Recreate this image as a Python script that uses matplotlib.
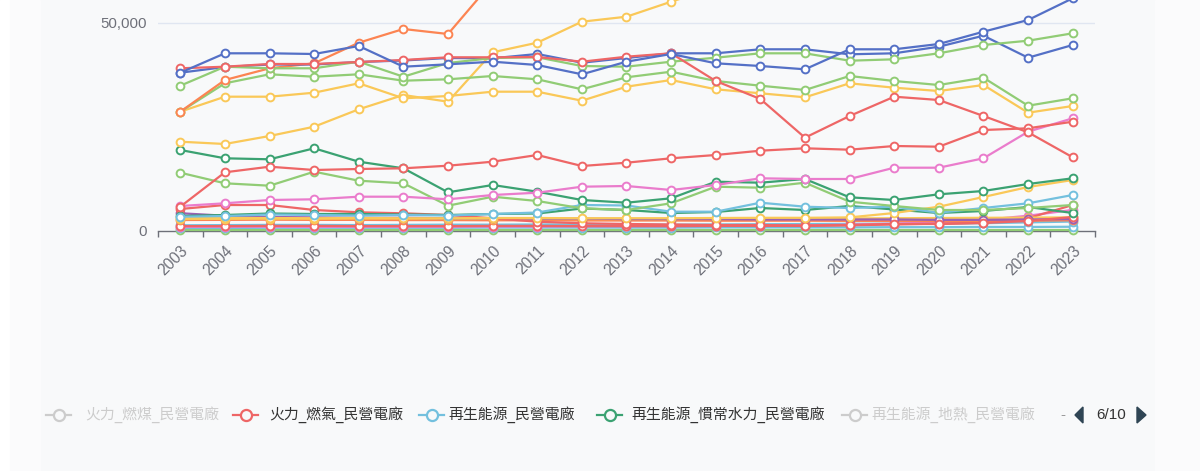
import matplotlib
matplotlib.use("Agg")
import matplotlib.pyplot as plt
from matplotlib.lines import Line2D
from matplotlib.patches import Polygon, Rectangle
import numpy as np

plt.rcParams['font.family'] = ['Liberation Sans', 'DejaVu Sans']

years = [str(y) for y in range(2003, 2024)]

# ---- series values (values above the top edge are guesses) ----
orange_1 = [28608, 36228, 39042, 40243, 45195, 48489, 47287, 59860, 64000, 66000, 68500,
            70000, 72000, 74500, 76000, 78000, 79500, 81000, 83500, 85000, 86500]
yellow_rise = [21396, 20843, 22766, 25002, 29185, 32622, 31012, 42887, 45195, 50244, 51446,
               55052, 58500, 61000, 63500, 66000, 68000, 70500, 73000, 75500, 77000]
yellow_flat = [28608, 32214, 32214, 33175, 35435, 31829, 32382, 33416, 33416, 31252, 34618,
               36228, 33993, 33031, 32069, 35435, 34377, 33584, 35026, 28367, 29978]
green_mid = [28608, 35435, 37599, 37022, 37599, 36060, 36397, 37190, 36397, 33993, 36877,
             38224, 35988, 34858, 33824, 37190, 35988, 35026, 36781, 30050, 31829]
green_top = [34858, 39426, 39042, 39042, 40628, 37022, 40315, 41517, 41686, 39594, 39426,
             40628, 41589, 42647, 42647, 40868, 41205, 42647, 44642, 45676, 47455]
blue_1 = [37983, 42647, 42647, 42479, 44402, 39426, 40003, 40628, 39834, 37599, 40628,
          42479, 40243, 39594, 38801, 43609, 43609, 44883, 47840, 50652, 55869]
blue_2 = [37983, 39353, 39955, 39955, 40555, 40916, 41517, 41445, 42479, 40387, 41517,
          42647, 42647, 43609, 43609, 42407, 42647, 44234, 46878, 41589, 44642]
red_top = [39042, 39426, 40075, 40075, 40555, 41036, 41686, 41686, 41757, 40628, 41830,
           42647, 35988, 31661, 22357, 27574, 32214, 31420, 27574, 23655, 17645]
red_mid = [5770, 14039, 15386, 14592, 14833, 15001, 15626, 16588, 18198, 15554, 16347,
           17405, 18198, 19232, 19809, 19472, 20362, 20194, 24208, 24617, 26204]
pink_1 = [5938, 6587, 7380, 7549, 8174, 8174, 7549, 8582, 9135, 10578, 10746,
          9784, 10986, 12597, 12429, 12429, 15145, 15145, 17405, 23800, 27021]
dgreen_1 = [19400, 17405, 17165, 19809, 16588, 15001, 9231, 10986, 9376, 7380, 6731,
            7789, 11780, 11539, 12429, 8029, 7380, 8751, 9544, 11227, 12597]
lgreen_low = [13943, 11395, 10818, 14184, 12020, 11395, 6010, 8174, 7140, 5385, 4976,
              6587, 10578, 10337, 11539, 6972, 5938, 4976, 4976, 5457, 6178]
lblue_1 = [3366, 3534, 3894, 3774, 3654, 3774, 3654, 4015, 4375, 6178, 6058,
           4568, 4568, 6731, 5770, 5457, 5770, 4327, 5457, 6587, 8582]
dgreen_2 = [3534, 3774, 4135, 4015, 4015, 3894, 3774, 4015, 4135, 5337, 4976,
            4255, 4495, 5457, 4976, 5938, 5096, 4255, 4736, 5697, 4255]
yellow_low = [2800, 2850, 2900, 2900, 2950, 2950, 2900, 2850, 2850, 2800, 2800,
              2800, 2850, 2900, 2900, 2950, 3000, 3050, 3100, 3150, 3200]
yellow_up = [3000, 3050, 3050, 3000, 3050, 3000, 3000, 3050, 3050, 3000, 3000,
             3000, 3050, 3100, 3100, 3200, 4250, 5770, 8100, 10500, 12190]
orange_low = [2570, 2600, 2650, 2600, 2600, 2550, 2550, 2500, 2500, 2450, 2450,
              2450, 2400, 2400, 2400, 2350, 2350, 2330, 2330, 2400, 2500]
red_low = [5217, 6178, 6178, 4976, 4423, 4183, 3774, 2981, 2164, 1779, 1611,
           1490, 1370, 1370, 1250, 1370, 1611, 1611, 1851, 2332, 3293]
red_low2 = [1100, 1100, 1150, 1150, 1100, 1100, 1100, 1150, 1150, 1100, 1100,
            1100, 1150, 1150, 1150, 1300, 1500, 1700, 1900, 3000, 6178]
pink_low = [900, 950, 950, 900, 950, 950, 950, 1000, 1000, 1050, 1100,
            1100, 1150, 1200, 1300, 1450, 1700, 2000, 2600, 3600, 5000]
purple_low = [4200, 3600, 3300, 3200, 3100, 3100, 3000, 3000, 2900, 2900, 2800,
              2800, 2800, 2700, 2700, 2700, 2700, 2600, 2600, 2700, 2800]
lblue_2 = [1300, 1350, 1400, 1400, 1350, 1400, 1450, 1450, 1500, 1500, 1450,
           1450, 1500, 1550, 1600, 1650, 1700, 1750, 1800, 2000, 2200]
lblue_3 = [650, 650, 700, 700, 700, 700, 700, 750, 750, 750, 750,
           750, 800, 800, 800, 800, 850, 850, 900, 900, 950]
lgreen_zero = [200, 200, 200, 200, 200, 200, 200, 200, 200, 200, 200,
               200, 200, 200, 200, 200, 200, 200, 200, 200, 200]

legend_labels = ["火力_燃煤_民營電廠", "火力_燃氣_民營電廠", "再生能源_民營電廠",
                 "再生能源_慣常水力_民營電廠", "再生能源_地熱_民營電廠"]
legend_enabled = [False, True, True, True, False]
legend_page = "6/10"

BLUE, GREEN, YELLOW, RED = '#5470c6', '#91cc75', '#fac858', '#ee6666'
LBLUE, DGREEN, ORANGE, PURPLE, PINK = '#73c0de', '#3ba272', '#fc8452', '#9a60b4', '#ea7ccc'

series = [
    (lgreen_zero, GREEN), (lblue_3, LBLUE), (lblue_2, LBLUE), (pink_low, PINK),
    (red_low2, RED), (orange_low, ORANGE), (yellow_low, YELLOW), (purple_low, PURPLE),
    (red_low, RED), (dgreen_2, DGREEN), (yellow_up, YELLOW), (lblue_1, LBLUE),
    (lgreen_low, GREEN), (dgreen_1, DGREEN), (pink_1, PINK), (red_mid, RED),
    (yellow_rise, YELLOW), (yellow_flat, YELLOW), (green_mid, GREEN),
    (orange_1, ORANGE), (blue_2, BLUE), (green_top, GREEN), (red_top, RED), (blue_1, BLUE),
]

W, H = 1200, 471
fig = plt.figure(figsize=(W / 100, H / 100), dpi=100)
fig.patch.set_facecolor('#f8f9fa')

def fx(x):
    return x / W

def fy(y):
    return 1 - y / H

# outer light strips
fig.add_artist(Rectangle((0, 0), fx(10), 1, transform=fig.transFigure, color='#ffffff', zorder=0))
fig.add_artist(Rectangle((fx(10), 0), fx(30), 1, transform=fig.transFigure, color='#fbfbfc', zorder=0))
fig.add_artist(Rectangle((fx(1155), 0), fx(45), 1, transform=fig.transFigure, color='#fbfbfc', zorder=0))

left, right, bottom = 158, 1095, 230.7
ax = fig.add_axes([fx(left), fy(bottom), fx(right - left), 1 - fy(bottom)])
ax.set_facecolor('none')

x = np.arange(len(years))
for z, (vals, col) in enumerate(series):
    ax.plot(x, vals, color=col, lw=1.6, marker='o', ms=5.6, mfc='white', mec=col,
            mew=1.4, clip_on=False, zorder=3 + z * 0.01, solid_joinstyle='round')

ymax = 230.7 * 240.4
ax.set_ylim(0, ymax)
ax.set_xlim(-0.5, len(years) - 0.5)

for s in ['top', 'right', 'left']:
    ax.spines[s].set_visible(False)
ax.spines['bottom'].set_color('#6e7079')
ax.spines['bottom'].set_linewidth(1.0)
ax.spines['bottom'].set_zorder(2)

ax.axhline(50000, color='#e0e6f1', lw=1.0, zorder=1)

ax.set_yticks([0, 50000])
ax.set_yticklabels(['0', '50,000'])
ax.tick_params(axis='y', length=0, pad=8, labelsize=10.8, labelcolor='#6e7079')

ax.set_xticks(x)
ax.set_xticklabels(years, rotation=45, ha='right', va='top', rotation_mode='anchor')
ax.tick_params(axis='x', which='major', length=0, pad=9, labelsize=11.2, labelcolor='#6e7079')
ax.set_xticks(np.arange(-0.5, len(years), 1.0), minor=True)
ax.tick_params(axis='x', which='minor', length=4, width=1, color='#6e7079', direction='out')

# ---- legend (page 6/10) ----
icon_x = [46, 233, 419, 597, 842]
text_x = [85, 269, 448, 631, 871]
legend_colors = ['#cccccc', RED, LBLUE, DGREEN, '#cccccc']
ly = 415
leg_font = ['DejaVu Sans', 'Noto Sans CJK TC']
for lab, en, ix, tx, col in zip(legend_labels, legend_enabled, icon_x, text_x, legend_colors):
    fig.add_artist(Line2D([fx(ix), fx(ix + 25)], [fy(ly), fy(ly)], transform=fig.transFigure,
                          color=col, lw=1.6))
    fig.add_artist(Line2D([fx(ix + 12.5)], [fy(ly)], transform=fig.transFigure, marker='o',
                          ms=8, mfc='#f8f9fa', mec=col, mew=1.6, color=col))
    fig.text(fx(tx), fy(ly), lab, family=leg_font, fontsize=10.7,
             color='#333333' if en else '#cccccc', ha='left', va='center')

fig.text(fx(1063), fy(ly), '-', fontsize=11, color='#999999', ha='center', va='center')
fig.add_artist(Polygon([(fx(1083), fy(407)), (fx(1083), fy(423)), (fx(1075), fy(415))],
                       closed=True, transform=fig.transFigure, color='#2f4554'))
fig.add_artist(Polygon([(fx(1137), fy(407)), (fx(1137), fy(423)), (fx(1146), fy(415))],
                       closed=True, transform=fig.transFigure, color='#2f4554'))
fig.text(fx(1111), fy(ly), legend_page, fontsize=11, color='#333333', ha='center', va='center')

fig.savefig('out.png', dpi=100, facecolor=fig.get_facecolor())
